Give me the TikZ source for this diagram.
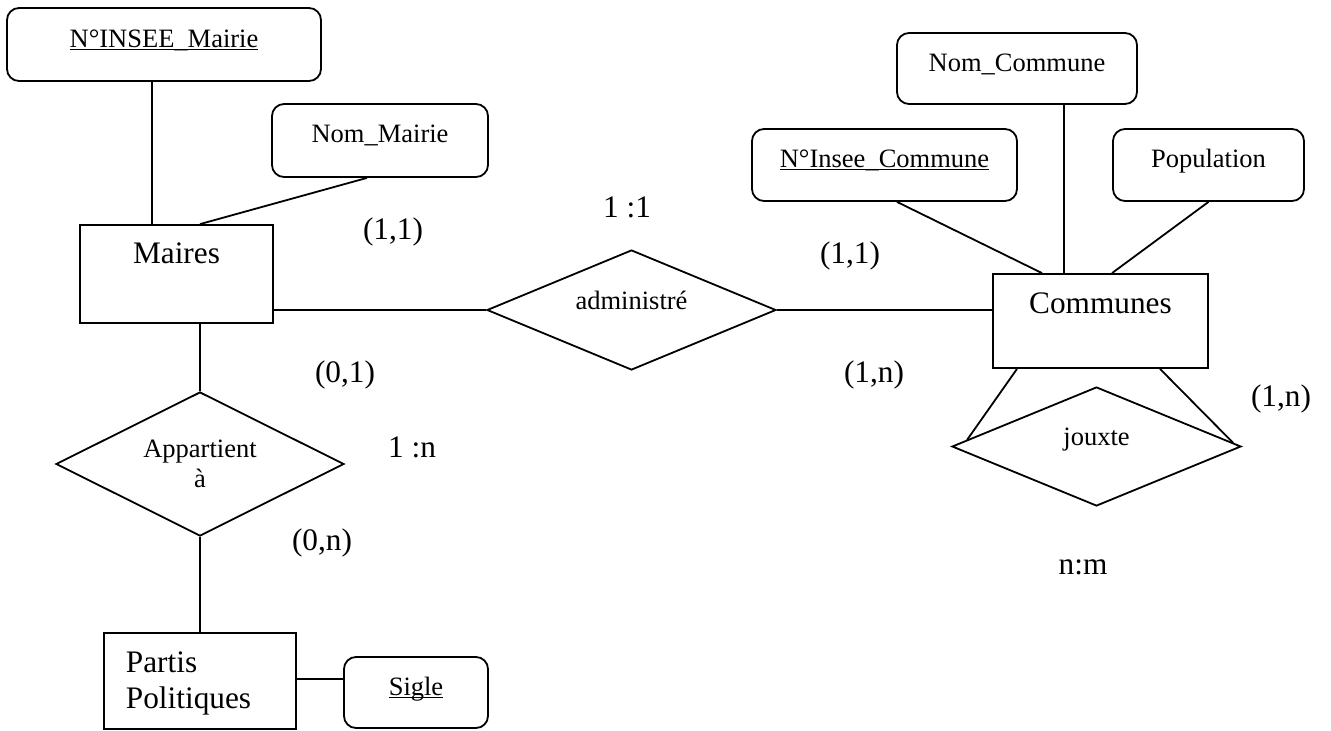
\documentclass[tikz,border=0pt]{standalone}
\usepackage{fontspec}
\setmainfont{Liberation Serif}
\usetikzlibrary{shapes.geometric,calc}

% underlined identifier (primary key), rule just under the baseline
\newsavebox{\keybox}
\newcommand{\keyattr}[1]{\sbox{\keybox}{#1}\rlap{\rule[-0.11em]{\wd\keybox}{0.05em}}\usebox{\keybox}}

\tikzset{
  smallfont/.style={font=\fontsize{26.5}{30.5}\selectfont},
  bigfont/.style={font=\fontsize{31.3}{36}\selectfont},
  attrbox/.style={draw, rounded corners=12pt, inner sep=0pt, smallfont},
  entitybox/.style={draw, rectangle, inner sep=0pt, bigfont},
  relbox/.style={draw, diamond, aspect=2, inner sep=0pt, align=center, smallfont},
  card/.style={inner sep=0pt, bigfont},
}

\begin{document}
\begin{tikzpicture}[x=1pt, y=-1pt, line width=1.8pt, line join=miter]
  \fill[white] (0,0) rectangle (1331,731);
  \useasboundingbox (0,0) rectangle (1331,731);

  % ---- entities ----
  \node[entitybox, minimum width=193pt, text height=38pt, text depth=60pt, anchor=base]
    (maires) at (176.5,263) {Maires};
  \node[entitybox, minimum width=215pt, text height=39pt, text depth=55pt, anchor=base]
    (communes) at (1100.5,313) {Communes};
  \node[entitybox, minimum width=192pt, minimum height=96pt] (partis) at (200,681) {};
  \node[anchor=north west, inner sep=0pt, align=left, bigfont]
    (partistext) at (125,651.3) {Partis\\Politiques};

  % ---- attributes ----
  \node[attrbox, minimum width=314pt, text height=39pt, text depth=34pt, anchor=base]
    (inseeM) at (164,47) {\keyattr{N°INSEE\_Mairie}};
  \node[attrbox, minimum width=216pt, text height=38pt, text depth=35pt, anchor=base]
    (nomM) at (380,142) {Nom\_Mairie};
  \node[attrbox, minimum width=240pt, text height=38pt, text depth=33pt, anchor=base]
    (nomC) at (1017,71) {Nom\_Commune};
  \node[attrbox, minimum width=265pt, text height=38pt, text depth=34pt, anchor=base]
    (inseeC) at (884.5,167) {\keyattr{N°Insee\_Commune}};
  \node[attrbox, minimum width=191pt, text height=38pt, text depth=34pt, anchor=base]
    (pop) at (1208.5,167) {Population};
  \node[attrbox, minimum width=144pt, text height=38pt, text depth=33pt, anchor=base]
    (sigle) at (416,695) {\keyattr{Sigle}};

  % ---- relationships ----
  \node[relbox, minimum width=288pt, minimum height=144pt] (appart) at (200,464) {Appartient\\à};
  \node[relbox, minimum width=289pt, minimum height=120pt, text height=10pt, text depth=12pt]
    (admin) at (631.5,310) {administré};
  \node[relbox, minimum width=289pt, minimum height=119pt, text height=10pt, text depth=13pt]
    (jouxte) at (1096.5,446.5) {jouxte};

  % ---- attribute links ----
  \draw ([xshift=-12pt]inseeM.south) -- ([xshift=-12pt]inseeM.south |- maires.north);
  \draw ([xshift=-13pt]nomM.south) -- ([xshift=23.5pt]maires.north);
  \draw ([xshift=12.5pt]inseeC.south) -- ([xshift=-58.5pt]communes.north);
  \draw ([xshift=47pt]nomC.south) -- ([xshift=47pt]nomC.south |- communes.north);
  \draw (pop.south) -- ([xshift=11.5pt]communes.north);
  \draw ([yshift=2pt]partis.east) -- ([yshift=2pt]partis.east -| sigle.west);

  % ---- relationship links ----
  \draw (admin.west -| maires.east) -- (admin.west);
  \draw (admin.east) -- (admin.east -| communes.west);
  \draw (appart.north |- maires.south) -- (appart.north);
  \draw (appart.south) -- (partis.north);
  \draw ([xshift=-83.5pt]communes.south) -- ($(jouxte.west)!0.11!(jouxte.north)$);
  \draw ([xshift=59.5pt]communes.south) -- ($(jouxte.east)!0.06!(jouxte.north)$);

  % ---- cardinalities ----
  \node[card] (k11) at (627,207) {1 :1};
  \node[card] (cMa) at (393,232) {(1,1)};
  \node[card] (cCa) at (850,256) {(1,1)};
  \node[card] (cMb) at (345,375) {(0,1)};
  \node[card] (k1n) at (412,447) {1 :n};
  \node[card] (cPa) at (322,543) {(0,n)};
  \node[card] (cCb) at (874,375) {(1,n)};
  \node[card] (cCc) at (1281,399) {(1,n)};
  \node[card] (knm) at (1083,567) {n:m};
\end{tikzpicture}
\end{document}
